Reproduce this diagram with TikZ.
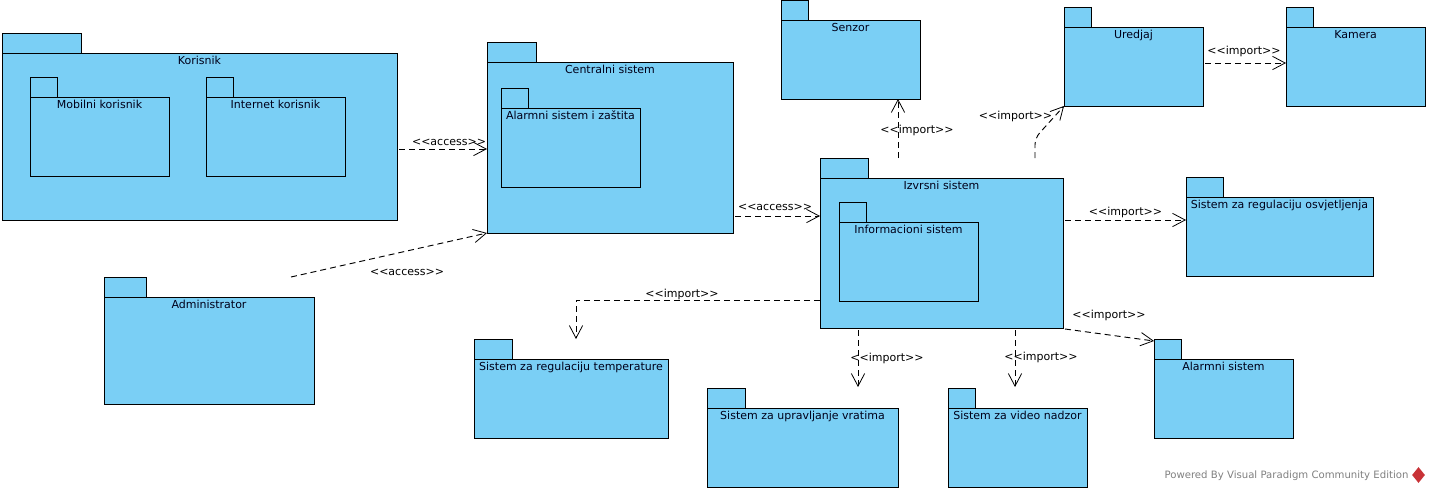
\documentclass[tikz,border=0pt]{standalone}
\usepackage{fontspec}
\setmainfont{DejaVu Sans}
\usetikzlibrary{positioning,fit,arrows.meta,shapes.geometric}
\definecolor{pkgblue}{RGB}{122,207,245}
\definecolor{logored}{RGB}{200,50,55}
\tikzstyle{pkg} = [rectangle, draw=black, line width=.7pt, fill=pkgblue, inner sep=0pt, outer sep=0pt]
\tikzstyle{pkgname} = [anchor=north, inner sep=0pt, yshift=-2.2pt, text height=6.2pt, text depth=0pt, font=\fontsize{8.25}{10}\selectfont, text=black!90!blue]
\tikzstyle{dep} = [line width=.7pt, dash pattern=on 4.5pt off 3pt, -{Straight Barb[length=9.5pt,width=10pt,line width=.6pt]}]
\tikzstyle{deplabel} = [inner sep=0pt, font=\fontsize{8.25}{10}\selectfont]
\newcommand{\stereo}[1]{{<}{<}#1{>}{>}}

\begin{document}
\begin{tikzpicture}[x=.75pt, y=-.75pt]
    \useasboundingbox (0,0) rectangle (1430,492);
    % outer packages
    \node (KorisnikTab) [pkg, fit={(2,33) (81,53)}] {};
    \node (Korisnik) [pkg, fit={(2,53) (397,220)}, label={[pkgname]above:Korisnik}] {};
    \node (MobilniTab) [pkg, fit={(30,77) (57,97)}] {};
    \node (Mobilni) [pkg, fit={(30,97) (169,176)}, label={[pkgname]above:Mobilni korisnik}] {};
    \node (InternetTab) [pkg, fit={(206,77) (233,97)}] {};
    \node (Internet) [pkg, fit={(206,97) (345,176)}, label={[pkgname]above:Internet korisnik}] {};
    \node (AdminTab) [pkg, fit={(104,277) (146,297)}] {};
    \node (Admin) [pkg, fit={(104,297) (314,404)}, label={[pkgname]above:Administrator}] {};
    \node (CentralniTab) [pkg, fit={(487,42) (536,62)}] {};
    \node (Centralni) [pkg, fit={(487,62) (733,233)}, label={[pkgname]above:Centralni sistem}] {};
    \node (ZastitaTab) [pkg, fit={(501,88) (528,108)}] {};
    \node (Zastita) [pkg, fit={(501,108) (640,187)}, label={[pkgname]above:Alarmni sistem i zaštita}] {};
    \node (IzvrsniTab) [pkg, fit={(820,158) (868,178)}] {};
    \node (Izvrsni) [pkg, fit={(820,178) (1063,328)}, label={[pkgname]above:Izvrsni sistem}] {};
    \node (InfoTab) [pkg, fit={(839,202) (866,222)}] {};
    \node (Info) [pkg, fit={(839,222) (978,301)}, label={[pkgname]above:Informacioni sistem}] {};
    % packages around Izvrsni sistem
    \node (SenzorTab) [pkg, fit={(781,0) (808,20)}] {};
    \node (Senzor) [pkg, fit={(781,20) (920,99)}, label={[pkgname]above:Senzor}] {};
    \node (UredjajTab) [pkg, fit={(1064,7) (1091,27)}] {};
    \node (Uredjaj) [pkg, fit={(1064,27) (1203,106)}, label={[pkgname]above:Uredjaj}] {};
    \node (KameraTab) [pkg, fit={(1286,7) (1313,27)}] {};
    \node (Kamera) [pkg, fit={(1286,27) (1425,106)}, label={[pkgname]above:Kamera}] {};
    \node (SvjetloTab) [pkg, fit={(1186,177) (1223,197)}] {};
    \node (Svjetlo) [pkg, fit={(1186,197) (1373,276)}, label={[pkgname]above:Sistem za regulaciju osvjetljenja}] {};
    \node (TempTab) [pkg, fit={(474,339) (512,359)}] {};
    \node (Temp) [pkg, fit={(474,359) (668,438)}, label={[pkgname]above:Sistem za regulaciju temperature}] {};
    \node (VrataTab) [pkg, fit={(707,388) (745,408)}] {};
    \node (Vrata) [pkg, fit={(707,408) (898,487)}, label={[pkgname]above:Sistem za upravljanje vratima}] {};
    \node (VideoTab) [pkg, fit={(948,388) (975,408)}] {};
    \node (Video) [pkg, fit={(948,408) (1087,487)}, label={[pkgname]above:Sistem za video nadzor}] {};
    \node (AlarmTab) [pkg, fit={(1154,339) (1181,359)}] {};
    \node (Alarm) [pkg, fit={(1154,359) (1293,438)}, label={[pkgname]above:Alarmni sistem}] {};
    % bends of the two connectors that are not straight
    \coordinate (UredjajBend) at (1035,138);
    \coordinate (TempBend) at (576,300);
    % connectors
    \draw[dep] ([shift={(2,12.5)}]Korisnik.east) -- node[deplabel, shift={(6,-7)}] {\stereo{access}} ([shift={(0,1.5)}]Centralni.west);
    \draw[dep] ([shift={(82,-20)}]Admin.north) -- node[deplabel, shift={(18,17)}] {\stereo{access}} (Centralni.south west);
    \draw[dep] ([shift={(2,68.5)}]Centralni.east) -- node[deplabel, shift={(-2.5,-8.5)}] {\stereo{access}} ([shift={(0,-37)}]Izvrsni.west);
    \draw[dep] ([shift={(-43.5,-20)}]Izvrsni.north) -- node[deplabel, shift={(19,1.5)}] {\stereo{import}} ([shift={(47.5,0)}]Senzor.south);
    \draw[dep, rounded corners=5] ([shift={(93.5,-20)}]Izvrsni.north) -- (UredjajBend) -- node[deplabel, shift={(-34,-6)}] {\stereo{import}} (Uredjaj.south west);
    \draw[dep] ([shift={(2,-3.5)}]Uredjaj.east) -- node[deplabel, shift={(-1.5,-11.5)}] {\stereo{import}} ([shift={(0,-3.5)}]Kamera.west);
    \draw[dep] ([shift={(2,-33)}]Izvrsni.east) -- node[deplabel, shift={(0,-8)}] {\stereo{import}} ([shift={(0,-16.5)}]Svjetlo.west);
    \draw[dep] ([shift={(0,47)}]Izvrsni.west) -- node[deplabel, shift={(-16,-6)}] {\stereo{import}} (TempBend) -- ([shift={(5,-20)}]Temp.north);
    \draw[dep] ([shift={(-83.5,2)}]Izvrsni.south) -- node[deplabel, shift={(29,-.5)}] {\stereo{import}} ([shift={(55.5,-21)}]Vrata.north);
    \draw[dep] ([shift={(73.5,2)}]Izvrsni.south) -- node[deplabel, shift={(26,-1.5)}] {\stereo{import}} ([shift={(-2.5,-21)}]Video.north);
    \draw[dep] ([shift={(2,1)}]Izvrsni.south east) -- node[deplabel, shift={(-0.5,-20)}] {\stereo{import}} ([shift={(0,2)}]AlarmTab.north west);
    % watermark
    \node (Powered) [inner sep=0pt, text=black!50, font=\fontsize{7.6}{9}\selectfont] at (1286.5,475.5) {Powered By Visual Paradigm Community Edition};
    \node (Logo) [diamond, fill=logored, inner sep=0pt, minimum width=9.75pt, minimum height=12pt] at (1418.5,475) {};
\end{tikzpicture}
\end{document}
